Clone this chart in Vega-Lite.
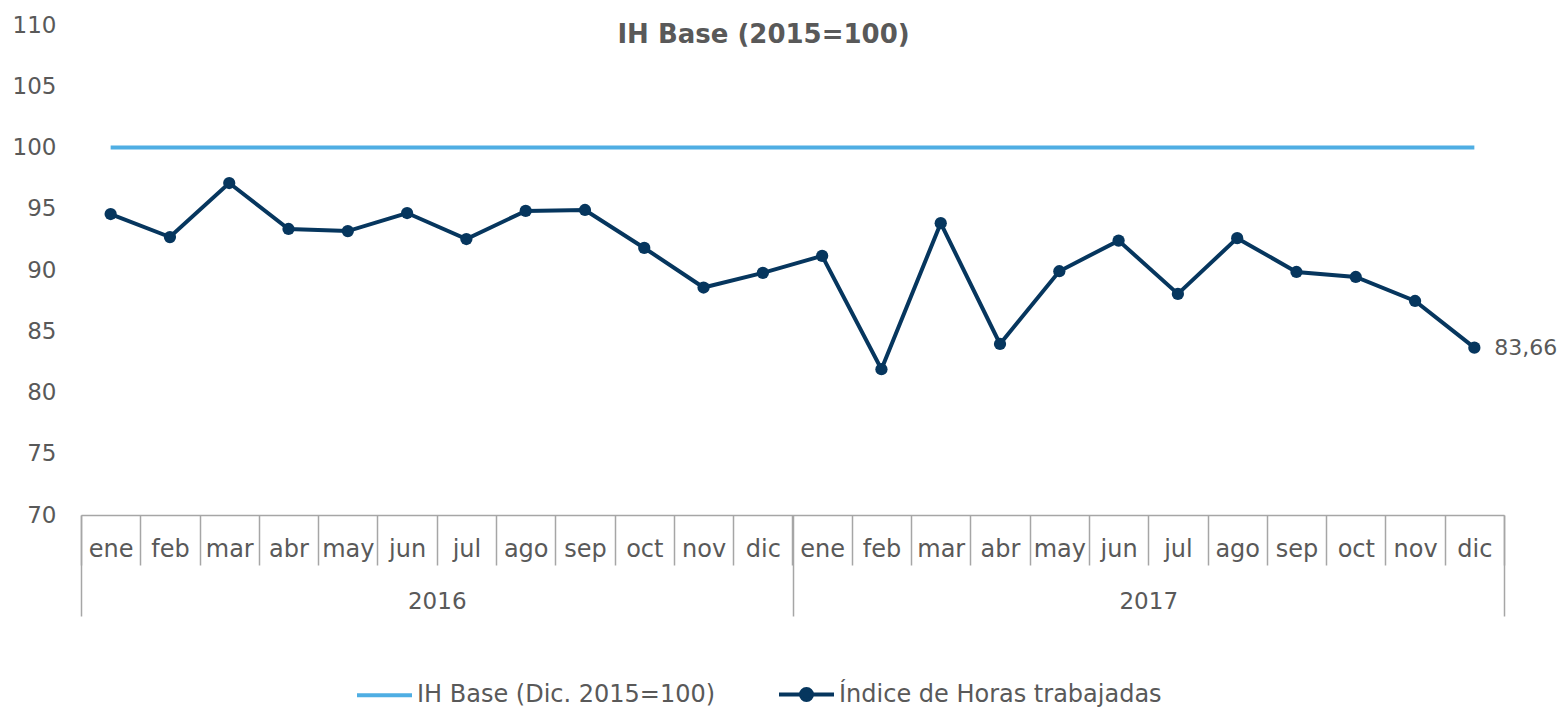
{
  "$schema": "https://vega.github.io/schema/vega-lite/v6.json",
  "width": 1423,
  "height": 490,
  "autosize": {"type": "none"},
  "padding": {"left": 81, "top": 25, "right": 60, "bottom": 193},
  "background": "white",
  "title": {
    "text": "IH Base (2015=100)",
    "font": "DejaVu Sans",
    "fontSize": 26,
    "fontWeight": "bold",
    "color": "#595959",
    "anchor": "middle",
    "baseline": "middle",
    "offset": 0,
    "dy": 47,
    "dx": -29
  },
  "config": {
    "view": {"stroke": null},
    "font": "DejaVu Sans",
    "locale": {"number": {"decimal": ",", "thousands": ".", "grouping": [3], "currency": ["", " €"]}}
  },
  "data": {
    "values": [
      {"k": "2016-ene", "mes": "ene", "anio": "2016", "horas": 94.57, "base": 100},
      {"k": "2016-feb", "mes": "feb", "anio": "2016", "horas": 92.69, "base": 100},
      {"k": "2016-mar", "mes": "mar", "anio": "2016", "horas": 97.1, "base": 100},
      {"k": "2016-abr", "mes": "abr", "anio": "2016", "horas": 93.35, "base": 100},
      {"k": "2016-may", "mes": "may", "anio": "2016", "horas": 93.18, "base": 100},
      {"k": "2016-jun", "mes": "jun", "anio": "2016", "horas": 94.65, "base": 100},
      {"k": "2016-jul", "mes": "jul", "anio": "2016", "horas": 92.53, "base": 100},
      {"k": "2016-ago", "mes": "ago", "anio": "2016", "horas": 94.82, "base": 100},
      {"k": "2016-sep", "mes": "sep", "anio": "2016", "horas": 94.9, "base": 100},
      {"k": "2016-oct", "mes": "oct", "anio": "2016", "horas": 91.8, "base": 100},
      {"k": "2016-nov", "mes": "nov", "anio": "2016", "horas": 88.57, "base": 100},
      {"k": "2016-dic", "mes": "dic", "anio": "2016", "horas": 89.76, "base": 100},
      {"k": "2017-ene", "mes": "ene", "anio": "2017", "horas": 91.15, "base": 100},
      {"k": "2017-feb", "mes": "feb", "anio": "2017", "horas": 81.9, "base": 100},
      {"k": "2017-mar", "mes": "mar", "anio": "2017", "horas": 93.82, "base": 100},
      {"k": "2017-abr", "mes": "abr", "anio": "2017", "horas": 83.96, "base": 100},
      {"k": "2017-may", "mes": "may", "anio": "2017", "horas": 89.9, "base": 100},
      {"k": "2017-jun", "mes": "jun", "anio": "2017", "horas": 92.4, "base": 100},
      {"k": "2017-jul", "mes": "jul", "anio": "2017", "horas": 88.05, "base": 100},
      {"k": "2017-ago", "mes": "ago", "anio": "2017", "horas": 92.6, "base": 100},
      {"k": "2017-sep", "mes": "sep", "anio": "2017", "horas": 89.84, "base": 100},
      {"k": "2017-oct", "mes": "oct", "anio": "2017", "horas": 89.43, "base": 100},
      {"k": "2017-nov", "mes": "nov", "anio": "2017", "horas": 87.47, "base": 100},
      {"k": "2017-dic", "mes": "dic", "anio": "2017", "horas": 83.66, "base": 100}
    ]
  },
  "layer": [
    {
      "layer": [
        {
          "mark": {"type": "line", "strokeWidth": 4},
          "encoding": {
            "y": {"field": "base", "type": "quantitative"},
            "color": {"datum": "IH Base (Dic. 2015=100)"}
          }
        },
        {
          "mark": {"type": "line", "strokeWidth": 4},
          "encoding": {
            "y": {"field": "horas", "type": "quantitative"},
            "color": {"datum": "Índice de Horas trabajadas"}
          }
        },
        {
          "mark": {"type": "point", "filled": true, "opacity": 1, "size": 150, "color": "#06365E"},
          "encoding": {
            "y": {"field": "horas", "type": "quantitative"}
          }
        },
        {
          "transform": [{"filter": "datum.k === '2017-dic'"}],
          "mark": {"type": "text", "align": "left", "baseline": "middle", "dx": 20, "fontSize": 22, "color": "#595959", "font": "DejaVu Sans"},
          "encoding": {
            "y": {"field": "horas", "type": "quantitative"},
            "text": {"field": "horas", "type": "quantitative", "format": ".2f"}
          }
        }
      ],
      "encoding": {
        "x": {
          "field": "k",
          "type": "nominal",
          "sort": null,
          "scale": {"type": "band", "paddingInner": 0, "paddingOuter": 0},
          "axis": {
            "title": null,
            "orient": "bottom",
            "labelExpr": "split(datum.label, '-')[1]",
            "labelAngle": 0,
            "labelFontSize": 24,
            "labelColor": "#595959",
            "labelBaseline": "middle",
            "labelPadding": -16,
            "tickBand": "extent",
            "tickSize": 50,
            "tickColor": "#A6A6A6",
            "tickWidth": 1.5,
            "domainColor": "#A6A6A6",
            "domainWidth": 1.5,
            "grid": false
          }
        },
        "color": {
          "type": "nominal",
          "scale": {
            "domain": ["IH Base (Dic. 2015=100)", "Índice de Horas trabajadas"],
            "range": ["#4FAEE3", "#06365E"]
          },
          "legend": {
            "title": null,
            "orient": "none",
            "direction": "horizontal",
            "legendX": 274,
            "legendY": 640,
            "labelFontSize": 24,
            "labelColor": "#595959",
            "labelFont": "DejaVu Sans",
            "labelLimit": 0,
            "symbolSize": 3025,
            "symbolStrokeWidth": 4,
            "labelOffset": 3,
            "columnPadding": 55,
            "encode": {
              "symbols": {
                "update": {
                  "shape": {"signal": "datum.value === 'IH Base (Dic. 2015=100)' ? 'M-1,0H1' : 'M-1,0H1M-0.2,0A0.2,0.2,0,1,1,0.2,0A0.2,0.2,0,1,1,-0.2,0Z'"},
                  "fill": {"signal": "datum.value === 'IH Base (Dic. 2015=100)' ? 'transparent' : '#06365E'"},
                  "strokeWidth": {"value": 4}
                }
              }
            }
          }
        }
      }
    },
    {
      "mark": {"type": "point", "opacity": 0},
      "encoding": {
        "x": {
          "field": "anio",
          "type": "nominal",
          "scale": {"type": "band", "paddingInner": 0, "paddingOuter": 0},
          "axis": {
            "title": null,
            "orient": "bottom",
            "labelAngle": 0,
            "labelFontSize": 23,
            "labelColor": "#595959",
            "labelBaseline": "middle",
            "labelPadding": -15,
            "tickBand": "extent",
            "tickSize": 101,
            "tickColor": "#A6A6A6",
            "tickWidth": 1.5,
            "domain": false,
            "grid": false
          }
        },
        "y": {"field": "horas", "type": "quantitative"}
      }
    }
  ],
  "encoding": {
    "y": {
      "type": "quantitative",
      "scale": {"domain": [70, 110], "nice": false, "zero": false},
      "axis": {
        "title": null,
        "values": [70, 75, 80, 85, 90, 95, 100, 105, 110],
        "domain": false,
        "ticks": false,
        "grid": false,
        "labelFontSize": 23,
        "labelColor": "#595959",
        "labelPadding": 25
      }
    }
  },
  "resolve": {"scale": {"x": "independent"}, "axis": {"x": "independent"}}
}
